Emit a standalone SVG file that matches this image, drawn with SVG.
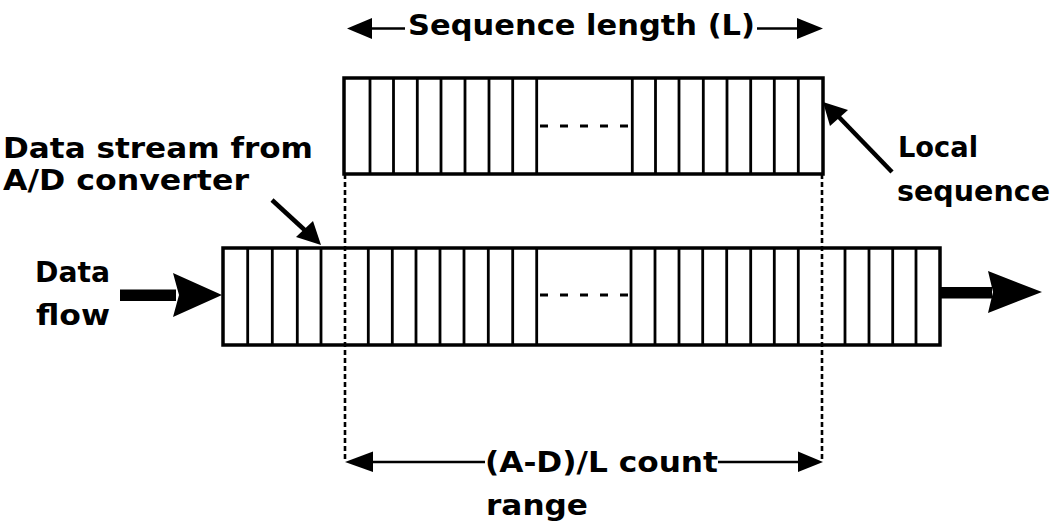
<svg xmlns="http://www.w3.org/2000/svg" width="1063" height="524" viewBox="0 0 1063 524">
<style>
.box{fill:#fff;stroke:#000;stroke-width:3.5}
.cell{stroke:#000;stroke-width:2.8}
.dots{stroke:#000;stroke-width:3;stroke-dasharray:8 12;fill:none}
.guide{stroke:#000;stroke-width:2.6;stroke-dasharray:5 3;fill:none}
.thin{stroke:#000;stroke-width:2.5;fill:none}
.thick{stroke:#000;stroke-width:4.5;fill:none}
.head{fill:#000}
.t{font-family:"DejaVu Sans","Liberation Sans",sans-serif;font-weight:bold;font-size:29px;fill:#000}
</style>
<rect width="1063" height="524" fill="#fff"/>
<g id="local-sequence">
<rect class="box" x="344" y="78" width="479" height="96"/>
<path class="cell" d="M370 78V174M393.5 78V174M417.3 78V174M441 78V174M465 78V174M489 78V174M512.7 78V174M536.7 78V174M632.3 78V174M655.5 78V174M679 78V174M703.3 78V174M727 78V174M750.7 78V174M774.3 78V174M798.3 78V174"/>
<line class="dots" x1="540" y1="126" x2="632" y2="126"/>
</g>
<g id="data-stream">
<rect class="box" x="223" y="248" width="717" height="97"/>
<path class="cell" d="M247.7 248V345M272.3 248V345M297.3 248V345M321 248V345M368.3 248V345M392.3 248V345M416 248V345M440 248V345M464 248V345M488.3 248V345M512.7 248V345M536.7 248V345M631 248V345M655 248V345M679 248V345M702.7 248V345M726.7 248V345M750.7 248V345M774.3 248V345M798.3 248V345M845 248V345M869 248V345M892.7 248V345M916 248V345"/>
<line class="dots" x1="540" y1="295" x2="631" y2="295"/>
</g>
<g id="connectors">
<line class="guide" x1="345" y1="174" x2="345" y2="460"/>
<line class="guide" x1="822" y1="174" x2="822" y2="460"/>
<line class="thin" x1="370" y1="28.5" x2="405" y2="28.5"/>
<polygon class="head" points="347,28.5 372,18 372,39"/>
<line class="thin" x1="757" y1="28.5" x2="799" y2="28.5"/>
<polygon class="head" points="823,28.5 797,18 797,39"/>
<line class="thin" x1="371" y1="462" x2="485" y2="462"/>
<polygon class="head" points="345,462 373,451.5 373,472"/>
<line class="thin" x1="718" y1="462" x2="800" y2="462"/>
<polygon class="head" points="823,462 798,451.5 798,472"/>
<rect class="head" x="120" y="289.5" width="56" height="11.5"/>
<polygon class="head" points="222,295 173,273 179,295 173,317"/>
<rect class="head" x="940" y="287" width="52" height="11.5"/>
<polygon class="head" points="1042,292 988,271 993,292 988,313"/>
<line class="thick" x1="272" y1="200" x2="309" y2="234"/>
<polygon class="head" points="321,245 296,237 313,221"/>
<line class="thick" x1="892" y1="172" x2="836" y2="114"/>
<polygon class="head" points="823,102 830,126 848,110"/>
</g>
<g id="labels">
<text class="t" x="408" y="35" textLength="347" lengthAdjust="spacingAndGlyphs">Sequence length (L)</text>
<text class="t" x="3" y="158" textLength="310" lengthAdjust="spacingAndGlyphs">Data stream from</text>
<text class="t" x="3" y="190" textLength="246" lengthAdjust="spacingAndGlyphs">A/D converter</text>
<text class="t" x="898" y="157" textLength="80" lengthAdjust="spacingAndGlyphs">Local</text>
<text class="t" x="897" y="201" textLength="153" lengthAdjust="spacingAndGlyphs">sequence</text>
<text class="t" x="35" y="282" textLength="75" lengthAdjust="spacingAndGlyphs">Data</text>
<text class="t" x="36" y="325" textLength="74" lengthAdjust="spacingAndGlyphs">flow</text>
<text class="t" x="485" y="472" textLength="233" lengthAdjust="spacingAndGlyphs">(A-D)/L count</text>
<text class="t" x="486" y="515" textLength="102" lengthAdjust="spacingAndGlyphs">range</text>
</g>
</svg>
